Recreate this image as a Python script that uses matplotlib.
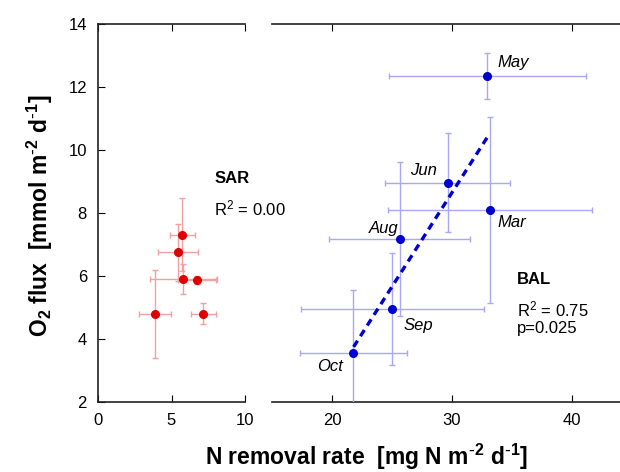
import matplotlib
matplotlib.use("Agg")
import matplotlib.pyplot as plt

plt.rcParams['font.family'] = ['Liberation Sans', 'DejaVu Sans']
plt.rcParams['mathtext.default'] = 'regular'

# SAR data
sar_x = [5.73, 5.46, 5.81, 6.76, 3.90, 7.16]
sar_y = [7.31, 6.75, 5.90, 5.87, 4.80, 4.80]
sar_xerr = [0.84, 1.35, 2.30, 1.30, 1.08, 0.84]
sar_yerr = [1.16, 0.90, 0.48, 0.12, 1.40, 0.33]

# BAL data
bal_months = ["May", "Jun", "Mar", "Aug", "Sep", "Oct"]
bal_x = [32.94, 29.64, 33.17, 25.64, 25.03, 21.78]
bal_y = [12.35, 8.96, 8.10, 7.17, 4.96, 3.56]
bal_xerr = [8.2, 5.2, 8.5, 5.9, 7.6, 4.47]
bal_yerr = [0.72, 1.57, 2.95, 2.45, 1.78, 2.00]

# regression line (BAL)
fit_x = [21.8, 33.1]
fit_y = [3.75, 10.5]

left_ticks = [0, 5, 10]
right_ticks = [20, 30, 40]
y_ticks = [2, 4, 6, 8, 10, 12, 14]

fig = plt.figure(figsize=(6.2, 4.72), dpi=100)
ax1 = fig.add_axes([98/620, 1-402/472, (245-98)/620, (402-24)/472])
ax2 = fig.add_axes([272/620, 1-402/472, (620-272)/620, (402-24)/472])
ax2.patch.set_visible(False)

ecol_r = '#f4a0a0'
ecol_b = '#a8a8f4'

ax1.errorbar(sar_x, sar_y, xerr=sar_xerr, yerr=sar_yerr, fmt='o', color='#e00000',
             ms=5.5, ecolor=ecol_r, elinewidth=1, capsize=2.5, capthick=1, zorder=3)
ax2.errorbar(bal_x, bal_y, xerr=bal_xerr, yerr=bal_yerr, fmt='o', color='#0000d0',
             ms=5.5, ecolor=ecol_b, elinewidth=1, capsize=2.5, capthick=1, zorder=3)
ax2.plot(fit_x, fit_y, linestyle=(0, (2.2, 1.6)), color='#0000d0', lw=2.4, zorder=4)

for ax in (ax1, ax2):
    ax.set_ylim(2, 14)
    ax.tick_params(direction='in', length=5, width=0.8, labelsize=12, top=True, pad=8)
    for s in ax.spines.values():
        s.set_linewidth(1.2)
        s.set_color('#222222')

ax1.set_xlim(0, 10)
ax1.set_xticks(left_ticks)
ax1.set_yticks(y_ticks)
ax1.spines['right'].set_visible(False)

ax2.set_xlim(15, 44)
ax2.set_xticks(right_ticks)
ax2.set_yticks([])
ax2.spines['left'].set_visible(False)
ax2.spines['right'].set_visible(False)
ax2.tick_params(left=False)

# month labels
lbl = dict(fontsize=12, style='italic', va='center')
ax2.text(33.83, 12.79, "May", ha='left', **lbl)
ax2.text(28.75, 9.34, "Jun", ha='right', **lbl)
ax2.text(33.83, 7.69, "Mar", ha='left', **lbl)
ax2.text(25.5, 7.52, "Aug", ha='right', **lbl)
ax2.text(26.0, 4.44, "Sep", ha='left', **lbl)
ax2.text(20.9, 3.12, "Oct", ha='right', **lbl)

ax1.text(7.91, 9.08, "SAR", fontsize=12, fontweight='bold', va='center', ha='left', clip_on=False)
ax1.text(7.91, 8.15, r"R$^{2}$ = 0.00", fontsize=12, va='center', ha='left', clip_on=False)
ax2.text(35.39, 5.9, "BAL", fontsize=12, fontweight='bold', va='center', ha='left')
ax2.text(35.39, 4.95, r"R$^{2}$ = 0.75", fontsize=12, va='center', ha='left')
ax2.text(35.39, 4.34, "p=0.025", fontsize=12, va='center', ha='left')

fig.text(366/620, 1-457/472, r"N removal rate  [mg N m$^{\text{-}2}$ d$^{\text{-}1}$]",
         fontsize=16.5, fontweight='bold', ha='center', va='center')
fig.text(40/620, 1-216/472, r"O$_{2}$ flux  [mmol m$^{\text{-}2}$ d$^{\text{-}1}$]",
         fontsize=16.5, fontweight='bold', ha='center', va='center', rotation=90)

fig.savefig("out.png", dpi=100)
